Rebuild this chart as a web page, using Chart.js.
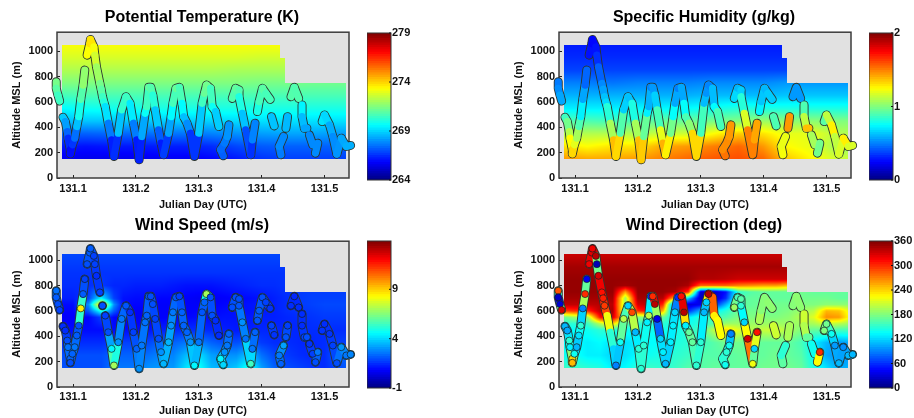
<!DOCTYPE html>
<html><head><meta charset="utf-8">
<script src="https://cdn.jsdelivr.net/npm/chart.js@4/dist/chart.umd.min.js"></script>
<style>
html,body{margin:0;padding:0;background:#fff;width:914px;height:418px;overflow:hidden}
.c{position:absolute;filter:blur(0.3px)}
</style></head><body>
<script>
// ---------- tick labels ----------
const dayTicks=[131.1,131.2,131.3,131.4,131.5];
const altTicks=[0,200,400,600,800,1000];
const titles=['Potential Temperature (K)','Specific Humidity (g/kg)','Wind Speed (m/s)','Wind Direction (deg)'];
const thetaBarTicks=[264,269,274,279];
const humBarTicks=[0,1,2];
const speedBarTicks=[-1,4,9];
const dirBarTicks=[0,60,120,180,240,300,360];
// ---------- flight track (null = gap) ----------
const trackDay=[131.0733,131.0733,131.0760,131.0787,null,
131.0840,131.0877,131.0909,131.0920,131.0957,131.0957,131.0990,131.1027,131.1060,131.1091,131.1123,131.1160,131.1187,null,
131.1224,131.1267,131.1277,131.1331,131.1347,131.1373,131.1427,131.1447,131.1469,131.1490,131.1512,131.1560,131.1613,131.1651,
131.1720,131.1773,131.1843,131.1907,131.1960,131.2013,131.2051,131.2093,131.2147,131.2173,131.2205,131.2237,131.2269,131.2307,131.2360,131.2400,131.2440,
131.2520,131.2560,131.2589,131.2637,131.2691,131.2733,131.2760,131.2813,131.2867,131.2931,
131.3000,131.3053,131.3090,131.3123,131.3187,131.3213,131.3267,131.3320,null,
131.3389,131.3347,131.3411,131.3453,131.3480,null,
131.3533,131.3587,131.3640,131.3640,131.3693,131.3747,131.3827,131.3853,131.3896,null,
131.3933,131.3960,131.4013,131.4067,131.4136,null,
131.4157,131.4200,null,
131.4307,131.4280,131.4349,null,131.4387,131.4413,null,
131.4467,131.4520,131.4589,null,
131.4643,131.4643,131.4680,131.4720,null,
131.4760,131.4813,null,
131.4856,131.4893,null,
131.4963,131.5000,131.5080,131.5133,131.5197,131.5267,131.5347,131.5416];
const trackAlt=[759,707,654,607,null,
479,445,366,314,223,191,262,314,406,484,620,733,851,null,
969,1060,1092,1034,969,877,746,700,641,600,563,432,301,170,
353,537,641,589,432,301,144,327,510,563,715,715,654,537,380,275,183,
353,484,589,707,715,589,484,432,353,170,
353,589,668,733,707,563,524,406,null,
175,223,275,327,419,null,
628,707,694,641,510,380,183,301,432,null,
524,602,707,668,620,null,
484,411,null,
183,249,327,null,393,484,null,
641,715,628,null,
576,484,393,393,null,
340,262,null,
196,275,null,
445,497,419,327,188,314,249,257];
const trackTheta=[271.5,271.2,270.7,270.3,null,
269,268.7,267.7,267,266,265.8,266.3,267,268,269.4,270.4,271.3,272.2,null,
273,273.7,274,273.5,273,272.4,271.5,271.2,270.7,270.3,270,268.4,267,265.6,
267.5,270,270.7,270.3,268.4,267,265.5,267.2,269.5,270,271.1,271.1,270.6,269.8,267.9,266.6,265.9,
267.6,269,270.2,271.1,271.2,270.2,269,268.4,267.5,265.8,
267.5,270.2,270.9,271.4,271.2,270,269.6,268.2,null,
267.2,267.3,267.5,267.8,268.3,null,
270.5,271.1,271,270.6,269.5,268,266,267.2,268.4,null,
269.7,270.3,271,270.9,270.4,null,
269,268.5,null,
267.6,267.8,268,null,268.2,269,null,
270.6,271.1,270.5,null,
270,269,268.3,268.3,null,
268,267.8,null,
267.8,268,null,
269,269.5,268.6,268.2,267.7,268.4,268.3,268.6];
const trackHum=[0.48,0.5,0.55,0.6,null,
0.85,0.9,1.05,1.15,1.35,1.4,1.25,1.15,1.0,0.8,0.65,0.5,0.4,null,
0.3,0.26,0.25,0.27,0.3,0.38,0.5,0.54,0.6,0.66,0.7,0.95,1.2,1.55,
1.1,0.72,0.6,0.66,0.95,1.2,1.55,1.15,0.75,0.7,0.5,0.5,0.6,0.72,1.05,1.35,1.45,
1.1,0.85,0.66,0.5,0.5,0.66,0.85,0.95,1.1,1.55,
1.1,0.66,0.58,0.5,0.52,0.72,0.78,1.0,null,
1.55,1.5,1.45,1.5,1.4,null,
0.75,0.6,0.62,0.7,0.95,1.4,1.6,1.4,1.45,null,
0.78,0.68,0.6,0.62,0.68,null,
0.85,0.95,null,
1.25,1.22,1.2,null,1.45,1.45,null,
0.6,0.5,0.6,null,
0.85,0.95,1.3,1.45,null,
1.1,1.05,null,
0.95,1.0,null,
0.9,0.95,1.3,1.25,1.0,1.35,1.2,1.15];
const trackSpeed=[2.5,2.2,2,1.8,null,
1.5,1.5,2,2.5,2.3,2,2.3,2.6,2.2,2,8.5,2.2,1.8,null,
2,2.2,2.2,1.8,1.8,1.5,1.8,null,2,null,1.8,2,4.5,7,
3,2.6,2.1,1.5,1.8,2.3,3,2.6,2.5,2.3,2.2,2,2,1.8,2,3,3.5,
3.5,3,2.6,2.1,1.8,2.3,2.3,2.3,3,4.5,
2.6,2.1,2.3,7,2,2,1.5,1.5,null,
4,4.5,3,2.6,2.3,null,
2,2,2,2.1,3,2.5,5.5,2.6,2.3,null,
2.1,2.2,2,1.8,1.6,null,
1.8,1.6,null,
2.3,2.6,3.2,null,2.1,1.8,null,
1.5,1.4,1.5,null,
1.5,1.5,1.8,2,null,
1.6,1.8,null,
2,2.6,null,
1.6,1.5,1.6,1.8,2,3,2.6,2.8];
const trackDir=[285,25,30,330,null,
110,105,150,130,240,250,140,110,125,150,90,300,40,null,
320,325,320,340,20,330,310,305,295,290,290,150,150,90,
140,200,120,290,110,150,150,150,130,200,60,300,340,40,120,130,110,
130,130,120,60,310,340,130,170,170,150,
150,110,120,340,330,230,230,220,null,
140,150,150,140,90,null,
190,160,165,150,120,330,220,120,310,null,
205,185,180,185,185,null,
205,210,null,
165,170,130,null,170,220,null,
180,185,185,null,
210,205,190,150,null,
160,120,null,
150,300,null,
180,175,140,100,110,95,110,110];
// day ranges of the Wind Direction track where no separate circles can be seen
const dirPlainRanges=[[131.148,131.163],[131.318,131.335],[131.392,131.486]];
// ---------- gridded fields ----------
const coarseDays=[131.08,131.12,131.16,131.20,131.24,131.28,131.32,131.36,131.40,131.44,131.48,131.52,131.56];
const coarseAlts=[1050,950,850,750,650,550,450,350,250,150];
const thetaField=[
[273.3,273.3,273.3,273.3,273.3,273.3,273.3,273.3,273.3,273.3,273.3,273.3,273.3],
[272.8,272.8,272.8,272.8,272.8,272.8,272.8,272.8,272.7,272.7,272.7,272.7,272.7],
[272.2,272.2,272.2,272.2,272.2,272.2,272.2,272.1,272.1,272.1,272.1,272.1,272.1],
[271.5,271.5,271.5,271.5,271.5,271.5,271.5,271.5,271.4,271.4,271.3,271.3,271.3],
[270.6,270.7,270.7,270.7,270.7,270.7,270.7,270.7,270.7,270.7,270.7,270.7,270.7],
[269.6,269.8,269.9,269.9,270,270,270,270,270,270,270,270,270],
[268.7,268.8,268.8,268.9,268.9,268.9,269,269.1,269.2,269.2,269.2,269.2,269.2],
[267.3,267.3,267.4,267.4,267.6,267.6,267.8,268,268.2,268.3,268.3,268.2,268.2],
[266.2,266.1,266.2,266.2,266.3,266.3,266.5,266.9,267.2,267.3,267.3,267.3,267.3],
[265.7,265.6,265.6,265.6,265.7,265.7,265.9,266.2,266.6,266.8,266.8,266.8,266.8]];
const humField=[
[0.3,0.3,0.3,0.3,0.3,0.3,0.3,0.3,0.3,0.3,0.3,0.3,0.3],
[0.33,0.33,0.33,0.33,0.33,0.33,0.33,0.33,0.33,0.33,0.33,0.33,0.33],
[0.38,0.38,0.38,0.38,0.38,0.38,0.38,0.38,0.38,0.38,0.38,0.38,0.38],
[0.5,0.5,0.48,0.5,0.5,0.5,0.52,0.52,0.52,0.55,0.55,0.55,0.55],
[0.6,0.6,0.6,0.6,0.6,0.6,0.62,0.62,0.62,0.64,0.64,0.64,0.64],
[0.72,0.72,0.72,0.74,0.74,0.75,0.78,0.82,0.8,0.8,0.8,0.8,0.8],
[0.9,0.9,0.88,0.9,0.95,0.95,0.98,1.0,1.05,1.02,1.02,1.0,1.0],
[1.1,1.1,1.1,1.1,1.15,1.15,1.25,1.35,1.3,1.2,1.2,1.1,1.1],
[1.3,1.25,1.3,1.3,1.42,1.45,1.5,1.55,1.45,1.25,1.2,1.05,1.05],
[1.45,1.42,1.42,1.45,1.5,1.55,1.58,1.6,1.55,1.35,1.25,1.15,1.15]];
const dirDays=[131.08,131.10,131.12,131.14,131.16,131.18,131.20,131.22,131.24,131.26,131.28,131.30,131.32,131.34,131.36,131.38,131.40,131.42,131.44,131.46,131.48,131.50,131.52,131.54];
const speedDays=[131.08,131.10,131.125,131.145,131.165,131.18,131.20,131.22,131.24,131.26,131.28,131.30,131.32,131.34,131.36,131.38,131.40,131.42,131.44,131.46,131.48,131.50,131.52,131.54];
const speedAlts=[1050,900,800,700,650,600,550,450,350,250,150];
const speedField=[
[1.9,1.9,1.9,1.9,1.9,1.9,1.9,1.9,1.9,1.9,1.9,1.9,1.9,1.9,1.9,1.9,1.9,1.9,1.9,1.9,1.9,1.9,1.9,1.9],
[1.6,1.6,1.6,1.6,1.6,1.6,1.6,1.6,1.6,1.6,1.6,1.6,1.6,1.6,1.6,1.6,1.6,1.6,1.6,1.6,1.6,1.6,1.6,1.6],
[1.5,1.5,1.5,1.7,1.4,1.4,1.3,1.3,1.3,1.2,1.1,1.1,1.1,1.2,1.3,1.4,1.5,1.5,1.6,1.7,1.7,1.7,1.7,1.7],
[1.3,1.3,1.8,4.5,1.8,1.1,1,1,0.9,0.9,0.8,0.7,0.7,0.8,0.9,1,1.1,1.3,1.5,1.7,1.8,1.8,1.8,1.8],
[1,1,3,9.5,3,1,0.9,0.9,0.8,0.8,0.8,0.8,0.8,0.9,1,1.1,1.2,1.3,1.5,1.7,1.8,1.9,1.9,1.9],
[0.9,0.9,2.2,5,2.2,0.9,0.8,0.8,0.8,0.8,0.8,0.9,0.9,1,1.1,1.1,1.2,1.3,1.5,1.6,1.7,1.8,1.8,1.8],
[0.8,0.8,0.9,1.8,0.9,0.7,0.7,0.8,0.8,0.9,0.9,1,1,1.1,1.1,1.2,1.3,1.3,1.4,1.5,1.6,1.7,1.7,1.7],
[1,1,1,1,1,1,1,1.1,1.3,1.4,1.5,1.5,1.4,1.3,1.2,1.3,1.4,1.4,1.4,1.4,1.5,1.5,1.5,1.5],
[1.5,1.5,1.5,1.5,1.7,1.8,1.8,1.9,2.3,2.3,2.6,2.8,2.3,2,2,2.2,1.7,1.5,1.5,1.4,1.4,1.5,1.7,1.8],
[2,2,2,2,2.3,2.3,2.3,2.5,2.8,2.8,3.6,4.2,3.2,3,3,3.8,2.5,1.9,1.7,1.5,1.4,1.5,2.2,2.4],
[2,2,2,2,2.6,2.6,2.6,3,3.1,3.1,4.2,4.8,3.6,3.4,3.8,5,3.2,2.3,2,1.8,1.6,1.5,1.9,2.2]];
const dirAlts=[1050,950,850,800,750,700,650,600,550,500,450,350,250,150];
const dirField=[
[333,333,333,333,333,333,333,333,333,333,333,333,333,333,333,333,333,333,333,333,333,333,333,333],
[347,347,347,347,347,347,347,347,347,347,347,347,347,347,347,347,347,347,347,347,347,347,347,347],
[352,352,352,352,352,352,352,352,352,352,352,342,342,338,333,333,333,333,333,333,333,333,333,333],
[352,352,352,352,352,348,352,352,352,352,345,280,280,280,270,265,260,260,250,180,180,180,180,180],
[352,352,352,352,352,260,352,352,352,345,300,30,20,50,150,165,170,170,170,175,170,170,170,170],
[347,347,347,347,347,190,347,347,340,240,120,20,20,60,165,170,170,170,170,175,175,175,170,170],
[337,337,337,340,340,190,330,340,300,45,30,40,50,110,170,170,175,175,175,180,180,185,185,185],
[290,300,300,340,345,190,300,320,250,60,60,110,130,150,175,175,175,175,180,190,200,250,245,210],
[170,190,190,310,330,230,180,190,170,130,130,150,160,165,180,180,180,180,185,200,215,265,260,215],
[150,150,155,200,240,170,150,150,150,140,140,150,165,190,190,190,190,190,190,190,195,210,200,190],
[135,135,140,150,150,140,140,140,140,140,150,160,200,240,215,200,205,210,195,180,170,170,160,160],
[135,135,130,135,125,125,130,135,135,145,150,155,165,175,175,170,170,170,170,160,130,110,100,105],
[140,140,130,130,120,125,135,140,145,150,155,165,165,165,170,170,170,175,170,165,135,105,95,100],
[155,155,150,145,130,135,150,155,150,155,165,165,170,170,170,170,175,175,175,170,145,125,105,110]];
// field footprint: [day where it ends, top altitude]
const footprintSteps=[[131.4296,1048],[131.4371,950],[131.5336,751]];
const footprintStart=131.0819, footprintBottom=152;

// ---------- colour map ----------
function jetRGB(t){t=Math.max(0,Math.min(1,t));
  const f=(c)=>Math.max(0,Math.min(1,1.5-Math.abs(4*t-c)));
  return [f(3),f(2),f(1)].map(v=>Math.round(v*255));}
function jet(t){const c=jetRGB(t);return `rgb(${c[0]},${c[1]},${c[2]})`;}

function lookup(arr,v){
  const asc=arr[0]<arr[arr.length-1];
  let i=0;
  while(i<arr.length-2 && (asc? v>arr[i+1] : v<arr[i+1])) i++;
  return [i,Math.max(0,Math.min(1,(v-arr[i])/(arr[i+1]-arr[i])))];
}
const fieldPlugin={id:'fieldPlugin',
 beforeDraw(chart,args,o){
  const a=chart.chartArea,ctx=chart.ctx,sx=chart.scales.x,sy=chart.scales.y;
  ctx.save();ctx.fillStyle='#e1e1e1';ctx.fillRect(a.left,a.top,a.right-a.left,a.bottom-a.top);
  const x0=Math.round(sx.getPixelForValue(footprintStart));
  const x1=Math.round(sx.getPixelForValue(footprintSteps[footprintSteps.length-1][0]));
  const yb=Math.round(sy.getPixelForValue(footprintBottom));
  for(let px=x0;px<x1;px++){
    const d=sx.getValueForPixel(px+0.5);
    let top=footprintSteps[footprintSteps.length-1][1];
    for(const s of footprintSteps){if(d<=s[0]){top=s[1];break;}}
    const yt=Math.round(sy.getPixelForValue(top));
    const [i,fx]=lookup(o.days,d);
    for(let py=yt;py<yb;py++){
      const h=sy.getValueForPixel(py+0.5);
      const [j,fy]=lookup(o.alts,h);
      const r0=o.values[j],r1=o.values[j+1];
      const v=(r0[i]*(1-fx)+r0[i+1]*fx)*(1-fy)+(r1[i]*(1-fx)+r1[i+1]*fx)*fy;
      ctx.fillStyle=jet((v-o.min)/(o.max-o.min));
      ctx.fillRect(px,py,1,1);
    }
  }
  ctx.restore();
 },
 beforeDatasetsDraw(chart){
  const a=chart.chartArea,ctx=chart.ctx;
  ctx.save();ctx.strokeStyle='#3c3c3c';ctx.lineWidth=1.5;
  ctx.strokeRect(a.left,a.top,a.right-a.left,a.bottom-a.top);ctx.restore();
 }};
const barFrame={id:'barFrame',afterDatasetsDraw(chart){
  const a=chart.chartArea,ctx=chart.ctx,sc=chart.scales.y;
  ctx.save();ctx.strokeStyle='#333';ctx.lineWidth=1;
  ctx.strokeRect(a.left,a.top,a.right-a.left,a.bottom-a.top);
  ctx.strokeStyle='#111';
  sc.ticks.forEach(t=>{const y=sc.getPixelForValue(t.value);ctx.beginPath();ctx.moveTo(a.right-2,y);ctx.lineTo(a.right,y);ctx.stroke();});
  ctx.restore();
 }};

const FONT='"Liberation Sans", Arial, sans-serif';
const MAX_DAY=131.539,MIN_DAY=131.0745,MAX_ALT=1150;

function addCanvas(l,t,w,h){
  const d=document.createElement('div');d.className='c';
  d.style.cssText=`left:${l}px;top:${t}px;width:${w}px;height:${h}px`;
  const c=document.createElement('canvas');c.width=w;c.height=h;c.style.cssText=`display:block;width:${w}px;height:${h}px`;
  d.appendChild(c);document.body.appendChild(d);return c;
}
function plotPanel(ox,oy,h,axisH,titlePad,tickPad,titleText,field,days,alts,trackVals,min,max,beads,plainRanges){
  const canvas=addCanvas(ox,oy,404,h);
  const pts=trackDay.map((d,i)=>({x:d===null?NaN:d,y:trackVals[i]===null?null:trackAlt[i]}));
  const col=(v)=>jet((v-min)/(max-min));
  const colors=trackVals.map(v=>v===null?'rgba(0,0,0,0)':col(v));
  const datasets=[];
  if(beads)datasets.push({label:'beads',data:pts,showLine:false,clip:false,
    pointRadius:c=>{const d=trackDay[c.dataIndex];return plainRanges.some(r=>d>=r[0]&&d<=r[1])?0:3.5;},
    pointBorderWidth:1,pointBorderColor:'rgba(20,30,30,0.7)',pointBackgroundColor:colors});
  datasets.push({label:'track',data:pts,showLine:true,clip:false,pointRadius:0,borderWidth:7.2,borderCapStyle:'round',borderJoinStyle:'round',
    tension:0,spanGaps:false,borderColor:'#888',
    segment:{borderColor:c=>{const a=trackVals[c.p0DataIndex],b=trackVals[c.p1DataIndex];return col((a+b)/2);}}});
  datasets.push({label:'outline',data:pts,showLine:true,clip:false,pointRadius:0,borderWidth:9,borderCapStyle:'round',borderJoinStyle:'round',
    tension:0,spanGaps:false,borderColor:'#2c3630'});
  new Chart(canvas,{type:'scatter',data:{datasets},plugins:[fieldPlugin],
   options:{responsive:false,animation:false,events:[],
    layout:{padding:{left:0,right:0,top:0,bottom:0}},
    plugins:{legend:{display:false},tooltip:{enabled:false},
      fieldPlugin:{days,alts,values:field,min,max},
      title:{display:true,text:titleText,color:'#000',font:{family:FONT,size:16,weight:'bold'},padding:titlePad}},
    scales:{
     x:{type:'linear',min:MIN_DAY,max:MAX_DAY,
        afterBuildTicks:s=>{s.ticks=dayTicks.map(v=>({value:v}));},
        afterFit:s=>{s.height=axisH;},
        grid:{display:true,drawOnChartArea:false,drawTicks:true,tickLength:-3,color:'#222'},border:{display:false},
        ticks:{color:'#111',font:{family:FONT,size:11,weight:'bold'},padding:tickPad,maxRotation:0,autoSkip:false,callback:v=>v.toFixed(1)},
        title:{display:true,text:'Julian Day (UTC)',color:'#111',font:{family:FONT,size:11,weight:'bold'},padding:{top:0,bottom:0}}},
     y:{type:'linear',min:0,max:MAX_ALT,
        afterBuildTicks:s=>{s.ticks=altTicks.map(v=>({value:v}));},
        afterFit:s=>{s.width=57;},
        grid:{display:true,drawOnChartArea:false,drawTicks:true,tickLength:-3,color:'#222'},border:{display:false},
        ticks:{color:'#111',font:{family:FONT,size:11,weight:'bold'},padding:7,autoSkip:false,callback:v=>String(v)},
        title:{display:true,text:'Altitude MSL (m)',color:'#111',font:{family:FONT,size:11,weight:'bold'},padding:{top:10,bottom:0}}},
     spacer:{type:'linear',axis:'y',position:'right',display:true,min:0,max:1,
        afterFit:s=>{s.width=55;},
        grid:{display:false,drawTicks:false},border:{display:false},ticks:{display:false}}
    }}});
}
function colorBar(ox,oy,padTop,padBottom,min,max,ticks){
  const canvas=addCanvas(ox,oy,50,209);
  const N=64,datasets=[],w=(max-min)/N;
  for(let i=0;i<N;i++){
    const lo=min+w*i,hi=Math.min(max,lo+w*1.4);
    datasets.push({data:[[lo,hi]],backgroundColor:jet((i+0.5)/N),borderWidth:0,
      grouped:false,barPercentage:1,categoryPercentage:1,order:N-i});
  }
  new Chart(canvas,{type:'bar',data:{labels:[''],datasets},plugins:[barFrame],
   options:{responsive:false,animation:false,events:[],
    layout:{padding:{top:padTop,bottom:padBottom,left:0,right:0}},
    plugins:{legend:{display:false},tooltip:{enabled:false}},
    scales:{
     x:{display:false},
     y:{position:'right',min,max,
        afterBuildTicks:s=>{s.ticks=ticks.map(v=>({value:v}));},
        afterFit:s=>{s.width=26;},
        grid:{display:false,drawTicks:false},border:{display:false},
        ticks:{color:'#111',font:{family:FONT,size:11,weight:'bold'},padding:1,autoSkip:false}}
    }}});
}
const padTop={top:8,bottom:5},padBottom={top:7,bottom:6};
plotPanel(0,0,212,34,padTop,7,titles[0],thetaField,coarseDays,coarseAlts,trackTheta,264,279,false,[]);
plotPanel(502,0,212,34,padTop,7,titles[1],humField,coarseDays,coarseAlts,trackHum,0,2,false,[]);
plotPanel(0,209,209,31,padBottom,6,titles[2],speedField,speedDays,speedAlts,trackSpeed,-1,13.9,true,[]);
plotPanel(502,209,209,31,padBottom,6,titles[3],dirField,dirDays,dirAlts,trackDir,0,360,true,dirPlainRanges);
colorBar(367,0,33,29,264,279,thetaBarTicks);
colorBar(869,0,33,29,0,2,humBarTicks);
colorBar(367,209,32,30,-1,13.9,speedBarTicks);
colorBar(869,209,32,30,0,360,dirBarTicks);
</script>
</body></html>
